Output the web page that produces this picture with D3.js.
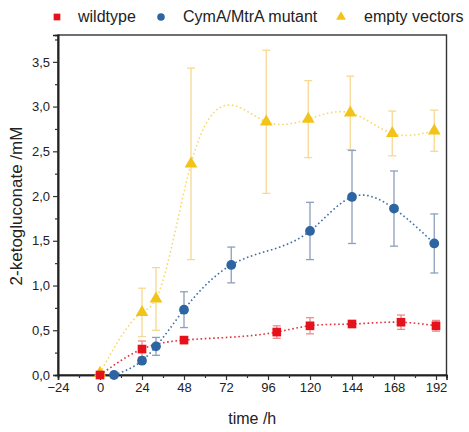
<!DOCTYPE html>
<html>
<head>
<meta charset="utf-8">
<script src="https://cdn.jsdelivr.net/npm/d3@7"></script>
<style>
  body { margin: 0; background: #fff; }
  text { font-family: "Liberation Sans", Arial, sans-serif; fill: #222; }
</style>
</head>
<body>
<svg id="chart" width="469" height="432"></svg>
<script>
/* Data */

var WT_TIME = [0, 24, 48, 101, 120, 144, 172, 192];
var WT_MEAN = [0.0, 0.29, 0.39, 0.48, 0.55, 0.57, 0.59, 0.55];
var WT_ERR  = [0.02, 0.09, 0.03, 0.07, 0.09, 0.03, 0.08, 0.06];

var MUT_TIME = [8, 24, 32, 48, 75, 120, 144, 168, 191];
var MUT_MEAN = [0.0, 0.16, 0.32, 0.73, 1.23, 1.61, 1.99, 1.86, 1.47];
var MUT_ERR  = [0.0, 0.03, 0.10, 0.20, 0.20, 0.32, 0.52, 0.42, 0.33];

var EV_TIME = [0, 24, 32, 52, 95, 119, 143, 167, 191];
var EV_MEAN = [0.02, 0.70, 0.85, 2.36, 2.83, 2.86, 2.93, 2.70, 2.73];
var EV_ERR  = [0.02, 0.27, 0.35, 1.07, 0.80, 0.43, 0.41, 0.25, 0.23];

var X_TICKS = [-24, 0, 24, 48, 72, 96, 120, 144, 168, 192];
var Y_TICKS = [0, 0.5, 1, 1.5, 2, 2.5, 3, 3.5];

var SERIES_NAMES = ["wildtype", "CymA/MtrA mutant", "empty vectors"];

/* Measures */

var LEFT = 58, RIGHT = 446.5, TOP = 35, BOTTOM = 375;

var svg = d3.select("#chart");

var x = d3.scaleLinear().domain([-24, 198]).range([LEFT, RIGHT]);
var y = d3.scaleLinear().domain([0, 3.8]).range([BOTTOM, TOP]);

function zip(t, m, e) {
	return t.map(function(d, i) { return {t: d, v: m[i], e: e[i]}; });
}

// natural cubic spline y(t), sampled for drawing the dotted guide line
function splineSamples(data, step) {
	var n = data.length, i;
	var xs = data.map(function(d) { return d.t; }),
		ys = data.map(function(d) { return d.v; });
	var h = [], a = [], b = [], c = [], r = [], m = new Array(n).fill(0);
	for (i = 0; i < n - 1; i++) h[i] = xs[i + 1] - xs[i];
	// tridiagonal system for interior second derivatives
	for (i = 1; i < n - 1; i++) {
		a[i] = h[i - 1];
		b[i] = 2 * (h[i - 1] + h[i]);
		c[i] = h[i];
		r[i] = 6 * ((ys[i + 1] - ys[i]) / h[i] - (ys[i] - ys[i - 1]) / h[i - 1]);
	}
	for (i = 2; i < n - 1; i++) {
		var w = a[i] / b[i - 1];
		b[i] -= w * c[i - 1];
		r[i] -= w * r[i - 1];
	}
	for (i = n - 2; i >= 1; i--) {
		m[i] = (r[i] - (i < n - 2 ? c[i] * m[i + 1] : 0)) / b[i];
	}
	var out = [];
	for (i = 0; i < n - 1; i++) {
		for (var t = xs[i]; t < xs[i + 1]; t += step) {
			var A = (xs[i + 1] - t) / h[i], B = (t - xs[i]) / h[i];
			var v = A * ys[i] + B * ys[i + 1] +
				((A * A * A - A) * m[i] + (B * B * B - B) * m[i + 1]) * h[i] * h[i] / 6;
			out.push({t: t, v: v});
		}
	}
	out.push({t: xs[n - 1], v: ys[n - 1]});
	return out;
}

var series = [
	{name: SERIES_NAMES[2], data: zip(EV_TIME, EV_MEAN, EV_ERR),
	 color: "#f2c318", line: "#f7d96e", err: "#f6d992", shape: d3.symbolTriangle, size: 70},
	{name: SERIES_NAMES[1], data: zip(MUT_TIME, MUT_MEAN, MUT_ERR),
	 color: "#2d65a3", line: "#3f6fa8", err: "#8d9fbb", shape: d3.symbolCircle, size: 75},
	{name: SERIES_NAMES[0], data: zip(WT_TIME, WT_MEAN, WT_ERR),
	 color: "#e5121b", line: "#e0303a", err: "#ee8a8f", shape: d3.symbolSquare, size: 75}
];

/* frame */
svg.append("rect")
	.attr("x", LEFT).attr("y", TOP)
	.attr("width", RIGHT - LEFT).attr("height", BOTTOM - TOP)
	.attr("fill", "none").attr("stroke", "#333").attr("stroke-width", 1.4);

/* axes */
var fmt = function(d) { return d3.format(".1f")(d).replace(".", ","); };

svg.append("g")
	.attr("transform", "translate(" + LEFT + ",0)")
	.call(d3.axisLeft(y).tickValues(Y_TICKS).tickFormat(fmt).tickSize(5).tickPadding(3));
svg.append("g")
	.attr("transform", "translate(" + LEFT + ",0)")
	.call(d3.axisLeft(y).tickValues(d3.range(0.25, 3.8, 0.5)).tickFormat("").tickSize(3));

svg.append("g")
	.attr("transform", "translate(0," + BOTTOM + ")")
	.call(d3.axisBottom(x).tickValues(X_TICKS).tickSize(5).tickPadding(3));
svg.append("g")
	.attr("transform", "translate(0," + BOTTOM + ")")
	.call(d3.axisBottom(x).tickValues(d3.range(-12, 198, 24)).tickFormat("").tickSize(3));

svg.selectAll(".domain").attr("stroke", "#222").attr("stroke-width", 1.6);
svg.selectAll(".tick line").attr("stroke", "#333").attr("stroke-width", 1.2);
svg.selectAll(".tick text").style("font-size", "13px").attr("fill", "#333")
	.style("font-family", "'Liberation Sans', Arial, sans-serif");

/* axis titles */
svg.append("text")
	.attr("x", (LEFT + RIGHT) / 2).attr("y", 424)
	.attr("text-anchor", "middle").style("font-size", "16px")
	.text("time /h");

svg.append("text")
	.attr("transform", "translate(22," + 206 + ") rotate(-90)")
	.attr("text-anchor", "middle").style("font-size", "17px")
	.text("2-ketogluconate /mM");

/* series */
var line = d3.line()
	.x(function(d) { return x(d.t); })
	.y(function(d) { return y(d.v); });

var plot = svg.append("g");

series.forEach(function(s) {
	plot.append("path")
		.datum(splineSamples(s.data, 1))
		.attr("d", line)
		.attr("fill", "none")
		.attr("stroke", s.line)
		.attr("stroke-width", 1.6)
		.attr("stroke-dasharray", "1.6,2.6");
});

series.forEach(function(s) {
	var g = plot.append("g");
	var bars = g.selectAll("g.err").data(s.data.filter(function(d) { return d.e > 0.02; }))
		.enter().append("g");
	bars.append("line")
		.attr("x1", function(d) { return x(d.t); })
		.attr("x2", function(d) { return x(d.t); })
		.attr("y1", function(d) { return y(d.v + d.e); })
		.attr("y2", function(d) { return y(d.v - d.e); })
		.attr("stroke", s.err).attr("stroke-width", 1.3);
	[1, -1].forEach(function(k) {
		bars.append("line")
			.attr("x1", function(d) { return x(d.t) - 4; })
			.attr("x2", function(d) { return x(d.t) + 4; })
			.attr("y1", function(d) { return y(d.v + k * d.e); })
			.attr("y2", function(d) { return y(d.v + k * d.e); })
			.attr("stroke", s.err).attr("stroke-width", 1.3);
	});
});

series.forEach(function(s) {
	plot.append("g").selectAll("path")
		.data(s.data)
		.enter().append("path")
		.attr("transform", function(d) { return "translate(" + x(d.t) + "," + y(d.v) + ")"; })
		.attr("d", d3.symbol().type(s.shape).size(s.size))
		.attr("fill", s.color);
});

/* legend */
var legendPos = [
	{s: series[2], mx: 57, tx: 78},
	{s: series[1], mx: 161, tx: 183},
	{s: series[0], mx: 341, tx: 364}
];
var legend = svg.append("g");
legendPos.forEach(function(p) {
	legend.append("path")
		.attr("transform", "translate(" + p.mx + ",17)")
		.attr("d", d3.symbol().type(p.s.shape).size(p.s.size * 0.6))
		.attr("fill", p.s.color);
	legend.append("text")
		.attr("x", p.tx).attr("y", 22)
		.style("font-size", "16px")
		.text(p.s.name);
});
</script>
</body>
</html>
